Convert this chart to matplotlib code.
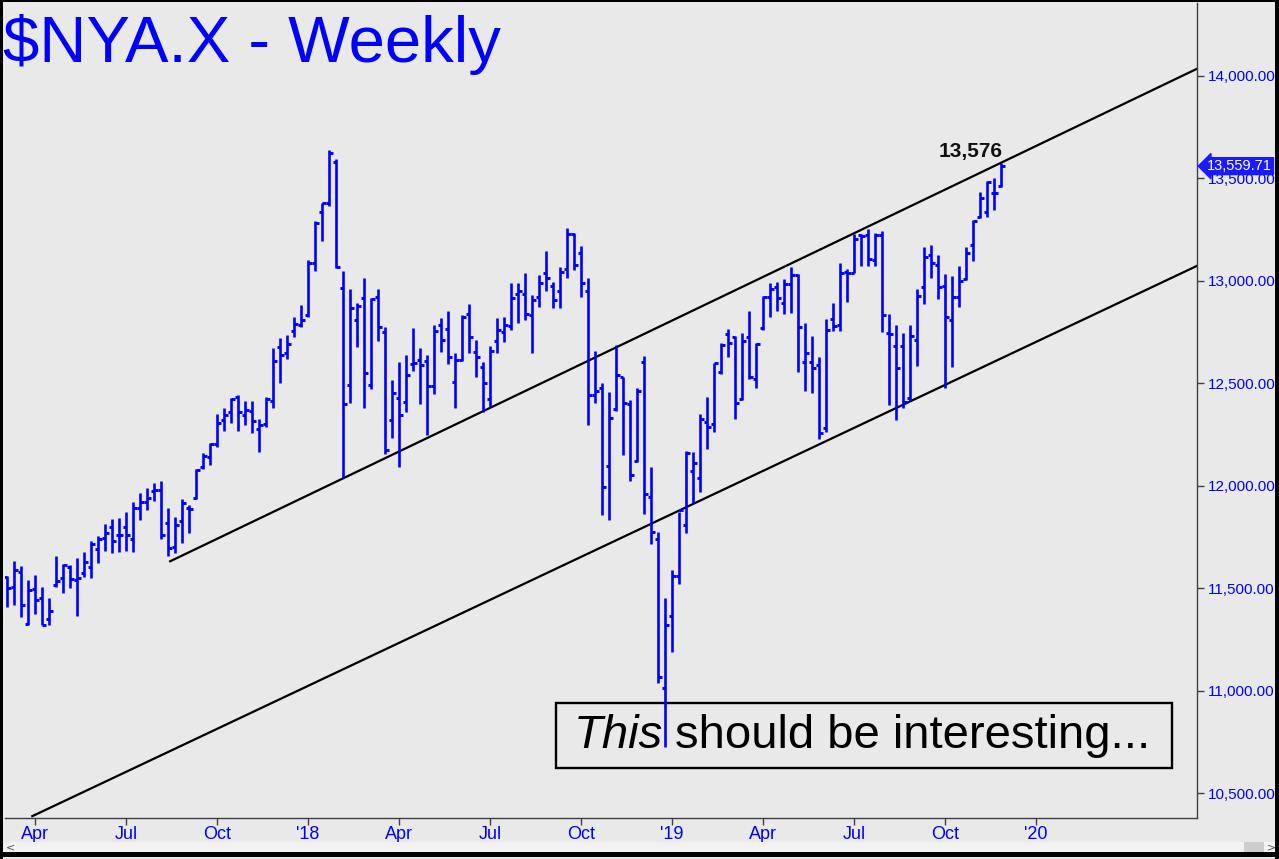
import numpy as np
import pandas as pd
import matplotlib
matplotlib.use("Agg")
import matplotlib.pyplot as plt
from matplotlib.patches import Rectangle
from matplotlib.transforms import blended_transform_factory
from matplotlib.ticker import FuncFormatter

# weekly bars, first week starts 2017-03-06
start = pd.Timestamp("2017-03-06")

opens = [
    11553, 11504, 11579, 11325, 11496, 11452, 11348, 11514, 11548, 11605,
    11540, 11573, 11602, 11693, 11745, 11797, 11758, 11797, 11739, 11893,
    11918, 11976, 11979, 11820, 11699, 11830, 11890, 11939, 12090, 12142,
    12204, 12321, 12362, 12435, 12345, 12366, 12275, 12301, 12412, 12676,
    12646, 12757, 12785, 12833, 13089, 13338, 13382, 13582, 12964, 12492,
    12809, 12915, 12492, 12920, 12752, 12321, 12427, 12409, 12594, 12614,
    12610, 12487, 12785, 12763, 12508, 12614, 12838, 12651, 12578, 12422,
    12708, 12750, 12780, 12936, 12936, 12833, 12923, 13040, 12975, 12952,
    13056, 13229, 13138, 12952, 12443, 12475, 12096, 12373, 12529, 12399,
    12122, 12606, 11943, 11738, 11011, 11364, 11558, 11808, 12074, 12036,
    12313, 12301, 12557, 12741, 12724, 12422, 12724, 12519, 12768, 12920,
    12972, 12890, 12985, 13029, 12606, 12606, 12589, 12280, 12814, 12785,
    13045, 13040, 13224, 13224, 13102, 13224, 12744, 12682, 12682, 12427,
    12711, 12968, 13126, 13077, 12975, 12809, 12920, 13008, 13175, 13310,
    13338, 13431, 13463]

highs = [
    11560, 11634, 11608, 11540, 11564, 11504, 11454, 11657, 11618, 11612,
    11647, 11674, 11732, 11755, 11813, 11836, 11844, 11872, 11919, 11963,
    11988, 12012, 12023, 11890, 11846, 11934, 11904, 12080, 12158, 12207,
    12350, 12378, 12430, 12443, 12415, 12415, 12324, 12432, 12671, 12720,
    12736, 12825, 12882, 13102, 13294, 13382, 13637, 13593, 13048, 12959,
    12890, 13012, 12915, 12959, 12773, 12516, 12604, 12638, 12768, 12671,
    12638, 12785, 12817, 12855, 12646, 12833, 12887, 12711, 12604, 12682,
    12817, 12822, 12991, 12991, 13040, 12931, 13029, 13147, 12996, 13066,
    13256, 13235, 13170, 13012, 12659, 12500, 12459, 12687, 12532, 12418,
    12475, 12633, 12093, 11776, 11450, 11589, 11873, 12171, 12163, 12350,
    12432, 12601, 12695, 12763, 12731, 12744, 12855, 12698, 12926, 12988,
    12996, 13007, 13066, 13033, 12796, 12731, 12630, 12812, 12894, 13089,
    13056, 13229, 13229, 13252, 13232, 13245, 12838, 12785, 12747, 12785,
    12959, 13167, 13175, 13126, 13034, 13024, 13073, 13167, 13297, 13435,
    13489, 13500, 13576]

lows = [
    11407, 11418, 11361, 11319, 11374, 11319, 11319, 11504, 11478, 11499,
    11366, 11552, 11547, 11625, 11683, 11670, 11674, 11683, 11674, 11833,
    11880, 11927, 11742, 11659, 11670, 11719, 11771, 11934, 12080, 12100,
    12188, 12269, 12308, 12269, 12295, 12256, 12166, 12285, 12378, 12500,
    12617, 12728, 12776, 12825, 13050, 13196, 13365, 13061, 12036, 12406,
    12676, 12378, 12471, 12708, 12155, 12231, 12093, 12362, 12562, 12399,
    12248, 12448, 12654, 12594, 12378, 12610, 12646, 12529, 12362, 12386,
    12650, 12703, 12760, 12793, 12809, 12646, 12874, 12952, 12866, 12866,
    13012, 13053, 12923, 12297, 12402, 11857, 11833, 12366, 12150, 12025,
    12118, 11862, 11716, 11039, 10723, 11190, 11519, 11768, 11917, 11971,
    12178, 12264, 12545, 12627, 12324, 12418, 12519, 12475, 12760, 12822,
    12855, 12838, 12845, 12557, 12464, 12451, 12226, 12264, 12757, 12757,
    12898, 13037, 13073, 13073, 13073, 12752, 12394, 12321, 12378, 12415,
    12585, 12887, 13012, 12910, 12475, 12578, 12871, 13004, 13099, 13305,
    13310, 13346, 13460]

closes = [
    11501, 11589, 11418, 11491, 11442, 11322, 11389, 11537, 11613, 11543,
    11547, 11626, 11716, 11740, 11768, 11730, 11761, 11758, 11890, 11919,
    11942, 11979, 11760, 11695, 11808, 11917, 11885, 12077, 12145, 12204,
    12308, 12345, 12425, 12362, 12370, 12318, 12297, 12422, 12611, 12638,
    12692, 12790, 12809, 13089, 13284, 13378, 13623, 13069, 12399, 12866,
    12877, 12549, 12910, 12773, 12174, 12451, 12345, 12541, 12597, 12588,
    12487, 12757, 12711, 12627, 12614, 12822, 12724, 12630, 12500, 12658,
    12760, 12785, 12915, 12951, 12838, 12907, 12991, 13012, 12907, 13045,
    13229, 13077, 12991, 12443, 12464, 11992, 12329, 12541, 12405, 12053,
    12464, 11960, 11776, 11068, 11320, 11559, 11880, 12158, 12113, 12324,
    12285, 12597, 12687, 12695, 12405, 12708, 12529, 12692, 12923, 12959,
    12915, 12985, 13029, 12776, 12650, 12573, 12256, 12760, 12780, 13037,
    13040, 13203, 13219, 13105, 13224, 12833, 12741, 12573, 12410, 12731,
    12926, 13115, 13089, 12968, 12825, 12923, 13001, 13134, 13294, 13403,
    13484, 13427, 13559.71]

# channel lines (week index, price)
upper_x = [23.3, 170]
upper_y = [11631, 14035]
lower_x = [3.6, 170]
lower_y = [10387, 13073]

high_label = "13,576"
last_close = closes[-1]
y_ticks = list(range(10500, 14001, 500))

BG = "#e9e9e9"
BLUE = "#0000ff"
AXC = "#404040"
W, H = 1279, 859

fig = plt.figure(figsize=(W / 100, H / 100), dpi=100)
fig.patch.set_facecolor(BG)
ax = fig.add_axes([5 / W, 1 - 818 / H, (1197 - 5) / W, (818 - 3) / H])
ax.set_facecolor(BG)

x = np.arange(len(opens))
ax.vlines(x, lows, highs, color=BLUE, lw=1.9, zorder=3)
ax.hlines(opens, x - 0.5, x, color=BLUE, lw=2.1, zorder=3)
ax.hlines(closes, x, x + 0.5, color=BLUE, lw=2.1, zorder=3)

ax.plot(upper_x, upper_y, color="black", lw=1.6, zorder=2)
ax.plot(lower_x, lower_y, color="black", lw=1.6, zorder=2)

ax.set_xlim(-0.3, 170)
ax.set_ylim(10378, 14356)

# x ticks: week holding the first business day of each quarter month
tick_pos, tick_lab = [], []
for m in pd.date_range("2017-04-01", "2020-01-01", freq="QS-JAN"):
    fb = m + pd.offsets.BDay(0)
    monday = fb - pd.Timedelta(days=fb.weekday())
    tick_pos.append((monday - start).days // 7)
    tick_lab.append(f"'{m:%y}" if m.month == 1 else m.strftime("%b"))
ax.set_xticks(tick_pos)
ax.set_xticklabels(tick_lab, family=["Liberation Sans Narrow", "Liberation Sans"])
ax.tick_params(axis="x", length=5, width=1, color=AXC, labelcolor=BLUE,
               labelsize=13, pad=1)

ax.yaxis.tick_right()
ax.set_yticks(y_ticks)
ax.yaxis.set_major_formatter(FuncFormatter(lambda v, p: f"{v:,.2f}"))
ax.tick_params(axis="y", length=5, width=1, color=AXC, labelcolor=BLUE,
               labelsize=11, pad=3)
for lab in ax.get_yticklabels():
    lab.set_family("Liberation Sans")

for s in ["left", "top"]:
    ax.spines[s].set_visible(False)
for s in ["right", "bottom"]:
    ax.spines[s].set_color(AXC)
    ax.spines[s].set_linewidth(1)

# annotations
fig.text(3 / W, 1 - 62 / H, "$NYA.X - Weekly", fontsize=47, color=BLUE,
         family="Liberation Sans", va="baseline", ha="left")
ax.text(137.6, 13605, high_label, fontsize=15, fontweight="bold",
        family="Liberation Sans", ha="center", va="baseline", color="#111111")

ax.add_patch(Rectangle((78.4, 10622), 88, 318, fill=False, ec="black",
                       lw=1.7, zorder=2))
ax.text(80.9, 10720, "This", fontsize=34, style="italic",
        family="Liberation Sans", va="baseline", ha="left")
ax.text(95.4, 10720, "should be interesting...", fontsize=34,
        family="Liberation Sans", va="baseline", ha="left")

trans = blended_transform_factory(ax.transAxes, ax.transData)
ax.text(1.0085, last_close, f"{last_close:,.2f}", transform=trans,
        color="white", fontsize=10.5, family="Liberation Sans",
        va="center", ha="left", clip_on=False, zorder=6,
        bbox=dict(boxstyle="larrow,pad=0.1", fc="#1a1aff", ec="#1a1aff"))

# window frame and scrollbar
fig.patches.append(Rectangle((0, 7 / H), 1, 10 / H, transform=fig.transFigure,
                             fc="#f3f3f3", ec="none"))
fig.patches.append(Rectangle((1244 / W, 7 / H), 20 / W, 10 / H,
                             transform=fig.transFigure, fc="#cdcdcd", ec="none"))
fig.text(6 / W, 12 / H, "<", fontsize=8, color="#555555", va="center")
fig.text(1267 / W, 12 / H, ">", fontsize=8, color="#555555", va="center")
for r in [(0, 0, 3, H), (0, H - 2, W, 2), (W - 4, 0, 4, H), (0, 2, W, 5)]:
    fig.patches.append(Rectangle((r[0] / W, r[1] / H), r[2] / W, r[3] / H,
                                 transform=fig.transFigure, fc="black", ec="none"))

fig.savefig("out.png", dpi=100, facecolor=BG)
